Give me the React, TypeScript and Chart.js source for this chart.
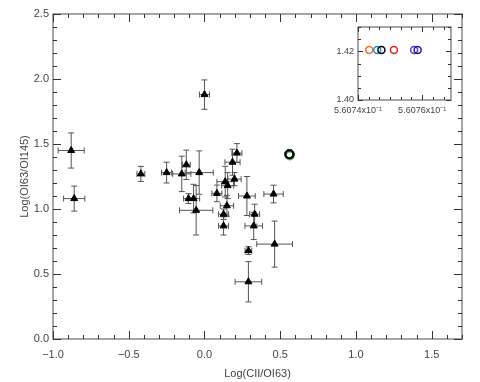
import React, { useEffect, useRef } from "react";
import { Chart, registerables } from "chart.js";
Chart.register(...registerables);

// Main data: Log(CII/OI63) vs Log(OI63/OI145)
const triX = [-0.88, -0.86, 0.0, -0.42, -0.25, -0.15, -0.12, -0.035, -0.105, -0.072, -0.055, 0.082, 0.137, 0.153, 0.198, 0.185, 0.214, 0.148, 0.126, 0.126, 0.28, 0.456, 0.331, 0.325, 0.29, 0.463, 0.29];
const triY = [1.45, 1.08, 1.88, 1.27, 1.28, 1.27, 1.34, 1.28, 1.08, 1.08, 0.99, 1.12, 1.21, 1.18, 1.23, 1.36, 1.43, 1.025, 0.96, 0.87, 1.1, 1.115, 0.96, 0.87, 0.68, 0.73, 0.44];
const triXErr = [0.086, 0.07, 0.033, 0.026, 0.033, 0.06, 0.026, 0.093, 0.033, 0.04, 0.11, 0.033, 0.055, 0.04, 0.044, 0.05, 0.033, 0.044, 0.033, 0.033, 0.055, 0.064, 0.033, 0.058, 0.022, 0.118, 0.088];
const triYErr = [0.135, 0.096, 0.113, 0.058, 0.08, 0.136, 0.113, 0.167, 0.038, 0.11, 0.19, 0.064, 0.118, 0.1, 0.051, 0.1, 0.073, 0.08, 0.04, 0.07, 0.15, 0.068, 0.077, 0.105, 0.03, 0.177, 0.155];

// Circle markers (model points), shown in main plot and zoomed inset (first listed is drawn on top)
const circX = [0.5607473, 0.560746, 0.5607512, 0.5607586, 0.5607575, 0.5607435];
const circY = [1.4205, 1.4205, 1.4205, 1.4205, 1.4205, 1.4205];
const circColors = ["#000000", "#1890c8", "#e82020", "#20208a", "#6a2ee8", "#f07020"];
// Green model point, slightly offset (outside inset range)
const greenX = [0.5635];
const greenY = [1.412];

const xTicks = [-1.0, -0.5, 0.0, 0.5, 1.0, 1.5];
const yTicks = [0.0, 0.5, 1.0, 1.5, 2.0, 2.5];
const insetXTicks = [0.56074, 0.56076];
const insetXTickLabels = ["5.6074x10\u207B\u00B9", "5.6076x10\u207B\u00B9"];
const insetYTicks = [1.4, 1.42];

const FONT = "'Liberation Sans', Arial, sans-serif";
const TXT = "#444";

function framePlugin(id: string, xMinorStep: number, yMinorStep: number, majLen: number, minLen: number, xMaj: number[], yMaj: number[]) {
  return {
    id,
    afterDraw(chart: any) {
      const { ctx, chartArea: a, scales } = chart;
      const xs = scales.x, ys = scales.y;
      ctx.save();
      ctx.strokeStyle = "#888";
      ctx.lineWidth = 1.5;
      ctx.strokeRect(a.left, a.top, a.right - a.left, a.bottom - a.top);
      ctx.strokeStyle = "#333";
      ctx.lineWidth = 1;
      const isMaj = (v: number, arr: number[], st: number) => arr.some((m) => Math.abs(m - v) < st * 0.01);
      const nx = Math.round((xs.max - xs.min) / xMinorStep);
      for (let i = 0; i <= nx; i++) {
        const v = xs.min + i * xMinorStep;
        if (v > xs.max + 1e-12) break;
        const px = Math.round(xs.getPixelForValue(v)) + 0.5;
        const L = isMaj(v, xMaj, xMinorStep) ? majLen : minLen;
        ctx.beginPath();
        ctx.moveTo(px, a.bottom); ctx.lineTo(px, a.bottom - L);
        ctx.moveTo(px, a.top); ctx.lineTo(px, a.top + L);
        ctx.stroke();
      }
      const ny = Math.round((ys.max - ys.min) / yMinorStep);
      for (let i = 0; i <= ny; i++) {
        const v = ys.min + i * yMinorStep;
        const py = Math.round(ys.getPixelForValue(v)) + 0.5;
        const L = isMaj(v, yMaj, yMinorStep) ? majLen : minLen;
        ctx.beginPath();
        ctx.moveTo(a.left, py); ctx.lineTo(a.left + L, py);
        ctx.moveTo(a.right, py); ctx.lineTo(a.right - L, py);
        ctx.stroke();
      }
      ctx.restore();
    },
  };
}

const errorBarPlugin = {
  id: "errbars",
  beforeDatasetsDraw(chart: any) {
    const { ctx, scales } = chart;
    const xs = scales.x, ys = scales.y;
    ctx.save();
    ctx.strokeStyle = "#555";
    ctx.lineWidth = 1;
    const cap = 3;
    triX.forEach((x, i) => {
      const y = triY[i];
      const px = xs.getPixelForValue(x), py = ys.getPixelForValue(y);
      const x0 = xs.getPixelForValue(x - triXErr[i]), x1 = xs.getPixelForValue(x + triXErr[i]);
      const y0 = ys.getPixelForValue(y - triYErr[i]), y1 = ys.getPixelForValue(y + triYErr[i]);
      ctx.beginPath();
      ctx.moveTo(x0, py); ctx.lineTo(x1, py);
      ctx.moveTo(x0, py - cap); ctx.lineTo(x0, py + cap);
      ctx.moveTo(x1, py - cap); ctx.lineTo(x1, py + cap);
      ctx.moveTo(px, y0); ctx.lineTo(px, y1);
      ctx.moveTo(px - cap, y0); ctx.lineTo(px + cap, y0);
      ctx.moveTo(px - cap, y1); ctx.lineTo(px + cap, y1);
      ctx.stroke();
    });
    ctx.restore();
  },
};

const fmt = (v: number) => Number(v).toFixed(1).replace("-", "\u2212");
const noGrid = { display: false, drawTicks: false, tickLength: 0 };

export default function App() {
  const mainRef = useRef<HTMLCanvasElement>(null);
  const insetRef = useRef<HTMLCanvasElement>(null);

  useEffect(() => {
    const circleSets = circX.map((cx, i) => ({
      data: [{ x: cx, y: circY[i] }],
      pointStyle: "circle",
      pointRadius: 4,
      pointBorderWidth: 2,
      pointBorderColor: circColors[i],
      pointBackgroundColor: "rgba(0,0,0,0)",
    }));
    const greenSet = {
      data: greenX.map((x, i) => ({ x, y: greenY[i] })),
      pointStyle: "circle",
      pointRadius: 4,
      pointBorderWidth: 2,
      pointBorderColor: "#30d030",
      pointBackgroundColor: "rgba(0,0,0,0)",
    };

    const main = new Chart(mainRef.current!, {
      type: "scatter",
      data: {
        datasets: [
          {
            data: triX.map((x, i) => ({ x, y: triY[i] })),
            pointStyle: "triangle",
            pointRadius: 4,
            pointBorderWidth: 1,
            pointBackgroundColor: "#000",
            pointBorderColor: "#000",
          } as any,
          ...(circleSets as any[]),
          greenSet as any,
        ],
      },
      options: {
        animation: false,
        responsive: false,
        events: [],
        layout: { padding: { top: 14, right: 18, left: 0, bottom: 0 } },
        plugins: { legend: { display: false }, tooltip: { enabled: false } },
        scales: {
          x: {
            type: "linear",
            min: -1.0,
            max: 1.7,
            grid: noGrid,
            border: { display: false },
            afterBuildTicks: (s: any) => { s.ticks = xTicks.map((v) => ({ value: v })); },
            afterFit: (s: any) => { s.height = 43; },
            ticks: { font: { family: FONT, size: 11 }, color: TXT, padding: 9, maxRotation: 0, autoSkip: false, callback: (v: any) => fmt(v) },
            title: { display: true, text: "Log(CII/OI63)", font: { family: FONT, size: 11 }, color: TXT, padding: { top: 0, bottom: 1 } },
          },
          y: {
            type: "linear",
            min: 0,
            max: 2.5,
            grid: noGrid,
            border: { display: false },
            afterBuildTicks: (s: any) => { s.ticks = yTicks.map((v) => ({ value: v })); },
            afterFit: (s: any) => { s.width = 53; },
            ticks: { font: { family: FONT, size: 11 }, color: TXT, padding: 4, autoSkip: false, callback: (v: any) => fmt(v) },
            title: { display: true, text: "Log(OI63/OI145)", font: { family: FONT, size: 11 }, color: TXT, padding: { top: 18, bottom: 0 } },
          },
        },
      } as any,
      plugins: [errorBarPlugin, framePlugin("frameMain", 0.1, 0.1, 8, 4, xTicks, yTicks)],
    });

    const inset = new Chart(insetRef.current!, {
      type: "scatter",
      data: {
        datasets: circX.map((cx, i) => ({
          data: [{ x: cx, y: circY[i] }],
          pointStyle: "circle",
          pointRadius: 3.5,
          pointBorderWidth: 1.5,
          pointBorderColor: circColors[i],
          pointBackgroundColor: "rgba(0,0,0,0)",
        })) as any,
      },
      options: {
        animation: false,
        responsive: false,
        events: [],
        layout: { padding: { top: 12, right: 24, left: 0, bottom: 0 } },
        plugins: { legend: { display: false }, tooltip: { enabled: false } },
        scales: {
          x: {
            type: "linear",
            min: 0.56074,
            max: 0.560769,
            grid: noGrid,
            border: { display: false },
            afterBuildTicks: (s: any) => { s.ticks = insetXTicks.map((v) => ({ value: v })); },
            afterFit: (s: any) => { s.height = 20; },
            ticks: {
              font: { family: FONT, size: 9 }, color: TXT, padding: 5, maxRotation: 0, autoSkip: false,
              callback: (_v: any, idx: number) => insetXTickLabels[idx],
            },
          },
          y: {
            type: "linear",
            min: 1.4,
            max: 1.43,
            grid: noGrid,
            border: { display: false },
            afterBuildTicks: (s: any) => { s.ticks = insetYTicks.map((v) => ({ value: v })); },
            afterFit: (s: any) => { s.width = 33; },
            ticks: { font: { family: FONT, size: 9 }, color: TXT, padding: 4, autoSkip: false, callback: (v: any) => Number(v).toFixed(2) },
          },
        },
      } as any,
      plugins: [framePlugin("frameInset", 0.00002 / 6, 0.005, 5, 3, insetXTicks, insetYTicks)],
    });

    return () => {
      main.destroy();
      inset.destroy();
    };
  }, []);

  return (
    <div style={{ position: "fixed", left: 0, top: 0, width: 480, height: 382, background: "#fff" }}>
      <canvas ref={mainRef} width={480} height={382} style={{ position: "absolute", left: 0, top: 0 }} />
      <canvas ref={insetRef} width={150} height={105} style={{ position: "absolute", left: 325, top: 15 }} />
    </div>
  );
}
